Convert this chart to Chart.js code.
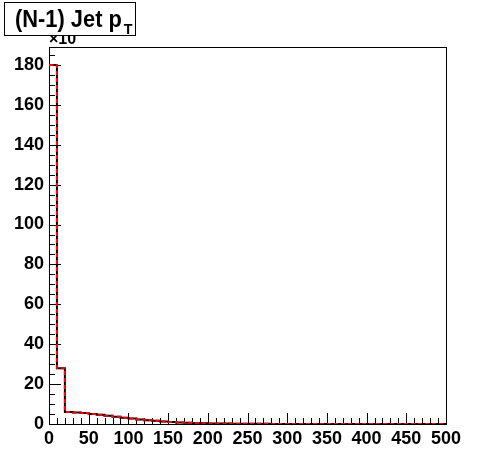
<!DOCTYPE html>
<html>
<head>
<meta charset="utf-8">
<script src="https://cdn.jsdelivr.net/npm/chart.js@4.4.0/dist/chart.umd.min.js"></script>
<style>
  html, body { margin: 0; padding: 0; background: #fff; }
  #wrap { position: relative; width: 496px; height: 472px; }
  #c { position: absolute; left: 0; top: 0; }
  #title {
    position: absolute; left: 4px; top: 2px; width: 130px; height: 32px;
    border: 1px solid #000; background: #fff; z-index: 3;
    color: #000; overflow: hidden;
  }
  #title .t {
    position: absolute; left: 10px; top: 3px; white-space: nowrap;
    font: bold 23px "Liberation Sans", Arial, sans-serif; line-height: 26px;
    transform: scaleX(0.95); transform-origin: 0 0;
  }
  #title sub { font-size: 15px; vertical-align: -7px; line-height: 0; margin-left: 2px; }
  #mult {
    position: absolute; left: 49px; top: 31px; z-index: 2;
    font: bold 16px "Liberation Sans", Arial, sans-serif; color: #000; line-height: 16px;
  }
</style>
</head>
<body>
<div id="wrap">
  <canvas id="c" width="496" height="472"></canvas>
  <div id="mult">×10</div>
  <div id="title"><span class="t">(N-1) Jet p<sub>T</sub></span></div>
</div>
<script>
// Bin edges (GeV) and bin contents (in units of 10 entries)
const binEdges = [0,10,20,30,40,50,60,70,80,90,100,110,120,130,140,150,160,170,180,190,200,
  210,220,230,240,250,260,270,280,290,300,310,320,330,340,350,360,370,380,390,400,
  410,420,430,440,450,460,470,480,490,500];
const counts = [180, 28, 6.0, 5.8, 5.5, 5.0, 4.6, 4.1, 3.6, 3.1,
  2.7, 2.3, 1.9, 1.6, 1.3, 1.0, 0.8, 0.6, 0.5, 0.4,
  0.3, 0.25, 0.2, 0.16, 0.13, 0.1, 0.08, 0.07, 0.06, 0.05,
  0.04, 0.035, 0.03, 0.025, 0.02, 0.02, 0.015, 0.01, 0.01, 0.01,
  0.01, 0.005, 0.005, 0.005, 0.005, 0.005, 0, 0, 0, 0];
const xTickLabels = [0,50,100,150,200,250,300,350,400,450,500];
const yTickLabels = [0,20,40,60,80,100,120,140,160,180];
const yMax = 189;

// each bin's value held from its lower edge to the next edge (stepped 'before')
function stepData() {
  return binEdges.map((e, i) => ({ x: e, y: counts[Math.min(i, counts.length - 1)] }));
}

const rootAxes = {
  id: 'rootAxes',
  beforeDatasetsDraw(chart) {
    const { ctx, chartArea: a, scales: { x, y } } = chart;
    ctx.save();
    ctx.strokeStyle = '#000';
    ctx.lineWidth = 1;
    ctx.beginPath();
    for (let v = x.min; v <= x.max + 1e-9; v += 10) {
      const px = Math.round(x.getPixelForValue(v)) + 0.5;
      const len = (Math.round(v) % 50 === 0) ? 11 : 6;
      ctx.moveTo(px, a.bottom); ctx.lineTo(px, a.bottom - len);
    }
    for (let v = 0; v <= y.max + 1e-9; v += 5) {
      const py = Math.round(y.getPixelForValue(v)) + 0.5;
      const len = (Math.round(v) % 20 === 0) ? 12 : 6;
      ctx.moveTo(a.left, py); ctx.lineTo(a.left + len, py);
    }
    ctx.stroke();
    ctx.strokeRect(Math.round(a.left) + 0.5, Math.round(a.top) + 0.5,
      Math.round(a.right - a.left), Math.round(a.bottom - a.top));
    ctx.restore();
  }
};

const tickFont = { family: '"Liberation Sans", Arial, sans-serif', size: 18, weight: 'bold' };

new Chart(document.getElementById('c'), {
  type: 'line',
  data: {
    datasets: [
      { data: stepData(), stepped: 'before', borderColor: '#ff0000', borderWidth: 2, borderDash: [4, 3], pointRadius: 0, fill: false, order: 0 },
      { data: stepData(), stepped: 'before', borderColor: '#000', borderWidth: 2, pointRadius: 0, fill: false, order: 1 }
    ]
  },
  options: {
    responsive: false,
    animation: false,
    events: [],
    layout: { padding: { top: 47, right: 50, left: 0, bottom: 0 } },
    plugins: { legend: { display: false }, tooltip: { enabled: false }, title: { display: false } },
    scales: {
      x: {
        type: 'linear', min: 0, max: 500,
        grid: { display: false, drawTicks: false },
        border: { display: false },
        afterBuildTicks: s => { s.ticks = xTickLabels.map(v => ({ value: v })); },
        afterFit: s => { s.height = 48; },
        ticks: { padding: 4, color: '#000', maxRotation: 0, autoSkip: false, font: tickFont }
      },
      y: {
        type: 'linear', min: 0, max: yMax,
        grid: { display: false, drawTicks: false },
        border: { display: false },
        afterBuildTicks: s => { s.ticks = yTickLabels.map(v => ({ value: v })); },
        afterFit: s => { s.width = 49; },
        ticks: { padding: 5, color: '#000', autoSkip: false, font: tickFont }
      }
    }
  },
  plugins: [rootAxes]
});
</script>
</body>
</html>
